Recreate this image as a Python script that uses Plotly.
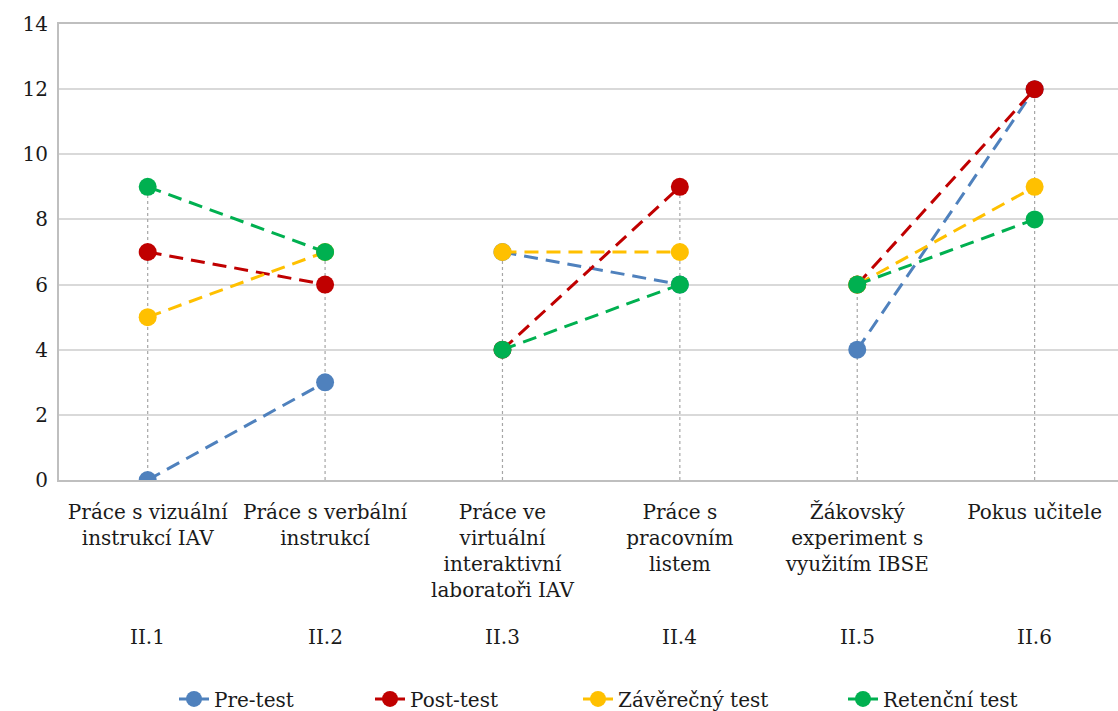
import plotly.graph_objects as go

# Categories (activity types) and their codes
categories = [
    "Práce s vizuální<br>instrukcí IAV",
    "Práce s verbální<br>instrukcí",
    "Práce ve<br>virtuální<br>interaktivní<br>laboratoři IAV",
    "Práce s<br>pracovním<br>listem",
    "Žákovský<br>experiment s<br>využitím IBSE",
    "Pokus učitele",
]
codes = ["II.1", "II.2", "II.3", "II.4", "II.5", "II.6"]

# Scores per test
pre_test = [0, 3, 7, 6, 4, 12]
post_test = [7, 6, 4, 9, 6, 12]
zaverecny_test = [5, 7, 7, 7, 6, 9]
retencni_test = [9, 7, 4, 6, 6, 8]

series_names = ["Pre-test", "Post-test", "Závěrečný test", "Retenční test"]
series_values = [pre_test, post_test, zaverecny_test, retencni_test]
series_colors = ["#4F81BD", "#C00000", "#FFC000", "#00B050"]
# horizontal placement of each legend entry (paper fraction)
legend_x = [0.1086, 0.2937, 0.4901, 0.7403]

FONT = "DejaVu Serif"
TEXT = "#1A1A1A"
x_idx = list(range(len(categories)))


def paired(values):
    """Connect categories in pairs (1-2, 3-4, 5-6) with gaps between pairs."""
    xs, ys = [], []
    for i in range(0, len(values), 2):
        xs += [i, i + 1, None]
        ys += [values[i], values[i + 1], None]
    return xs[:-1], ys[:-1]


fig = go.Figure()

# Drop lines from the highest value of each category down to the axis
tops = [max(v[i] for v in series_values) for i in x_idx]
dx, dy = [], []
for i, t in zip(x_idx, tops):
    dx += [i, i, None]
    dy += [0, t, None]
fig.add_trace(go.Scatter(
    x=dx, y=dy, mode="lines", showlegend=False, hoverinfo="skip",
    line=dict(color="#A6A6A6", width=1.2, dash="dot"),
))

legend_layouts = {}
for k, (name, vals, color, lx) in enumerate(
        zip(series_names, series_values, series_colors, legend_x)):
    lid = "legend" if k == 0 else f"legend{k + 1}"
    xs, ys = paired(vals)
    fig.add_trace(go.Scatter(
        x=xs, y=ys, name=name, mode="lines+markers", legend=lid,
        line=dict(color=color, width=3, dash="14px,8px"),
        marker=dict(color=color, size=18),
    ))
    legend_layouts[lid] = dict(
        orientation="h", x=lx, xanchor="left", y=-0.480, yanchor="middle",
        font=dict(family=FONT, size=20, color=TEXT),
        bgcolor="rgba(0,0,0,0)",
    )

# Second row of category labels (codes)
for i, c in zip(x_idx, codes):
    fig.add_annotation(
        x=i, y=0, xref="x", yref="paper", text=c, showarrow=False,
        yanchor="middle", yshift=-157,
        font=dict(family=FONT, size=20, color=TEXT),
    )

fig.update_layout(
    width=1118, height=711,
    margin=dict(l=59, r=0, t=24, b=231, autoexpand=False),
    paper_bgcolor="white", plot_bgcolor="white",
    font=dict(family=FONT, size=20, color=TEXT),
    showlegend=True,
    xaxis=dict(
        range=[-0.5, 5.47], tickmode="array", tickvals=x_idx, ticktext=categories,
        showgrid=False, zeroline=False, showline=True, mirror=True,
        linecolor="#BFBFBF", linewidth=2, ticks="", tickangle=0,
        ticklabelstandoff=13, automargin=False,
    ),
    yaxis=dict(
        range=[0, 14], dtick=2, showgrid=True, gridcolor="#D9D9D9", gridwidth=1.5,
        zeroline=False, showline=True, linecolor="#BFBFBF", linewidth=2,
        ticks="", ticklabelstandoff=5, automargin=False,
    ),
    **legend_layouts,
)

fig.write_html("out.html")
